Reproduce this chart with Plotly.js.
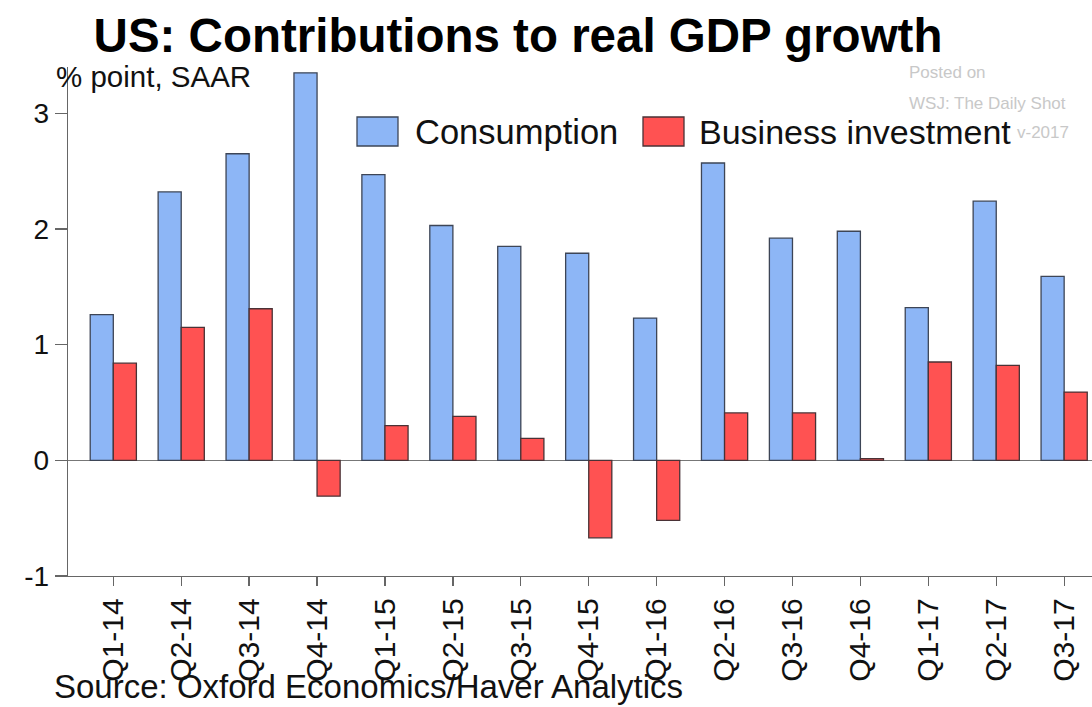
<!DOCTYPE html>
<html>
<head>
<meta charset="utf-8">
<script src="https://cdn.plot.ly/plotly-3.0.1.min.js"></script>
<style>
html,body{margin:0;padding:0;background:#fff;overflow:hidden;}
#chart{width:1092px;height:707px;}
</style>
</head>
<body>
<div id="chart"></div>
<script>
// ---- data ----
const quarters = ["Q1-14","Q2-14","Q3-14","Q4-14","Q1-15","Q2-15","Q3-15","Q4-15","Q1-16","Q2-16","Q3-16","Q4-16","Q1-17","Q2-17","Q3-17"];
const consumption = [1.26, 2.32, 2.65, 3.35, 2.47, 2.03, 1.85, 1.79, 1.23, 2.57, 1.92, 1.98, 1.32, 2.24, 1.59];
const businessInvestment = [0.84, 1.15, 1.31, -0.31, 0.30, 0.38, 0.19, -0.67, -0.52, 0.41, 0.41, 0.015, 0.85, 0.82, 0.59];
const seriesNames = ["Consumption", "Business investment"];
const yTicks = [-1, 0, 1, 2, 3];

// ---- layout geometry ----
const W = 1092, H = 707;
const M = {l: 68, r: 0, t: 67, b: 131};
const PW = W - M.l - M.r, PH = H - M.t - M.b;
const px = x => (x - M.l) / PW;
const py = y => (H - M.b - y) / PH;

const FONT = "Liberation Sans, Arial, Helvetica, sans-serif";
const BLUE = "#8db6f6", RED = "#ff5252", EDGE = "#3d4556";

const xIdx = quarters.map((q, i) => i);

const traces = [
  {type: "bar", name: seriesNames[0], x: xIdx, y: consumption,
   marker: {color: BLUE, line: {color: EDGE, width: 1.3}}, showlegend: false, hoverinfo: "x+y"},
  {type: "bar", name: seriesNames[1], x: xIdx, y: businessInvestment,
   marker: {color: RED, line: {color: "#4a3236", width: 1.3}}, showlegend: false, hoverinfo: "x+y"}
];

const legendBox = (x0, color, lc) => ({type: "rect", xref: "paper", yref: "paper",
  x0: px(x0), x1: px(x0 + 41), y0: py(146), y1: py(117),
  fillcolor: color, line: {color: lc, width: 1.3}});

const layout = {
  width: W, height: H,
  margin: M,
  paper_bgcolor: "#fff", plot_bgcolor: "#fff",
  font: {family: FONT, color: "#111"},
  barmode: "group", bargap: 0.32, bargroupgap: 0,
  title: {text: "<b>US: Contributions to real GDP growth</b>", font: {size: 47.5, family: FONT, color: "#000"},
          x: 518 / W, xanchor: "center", y: 1 - 35 / H, yanchor: "middle"},
  xaxis: {
    range: [-0.667, 14.41], tickmode: "array", tickvals: xIdx, ticktext: quarters,
    tickangle: -90, ticks: "outside", ticklen: 9, tickcolor: "#666", tickwidth: 1.3,
    showline: true, linecolor: "#666", linewidth: 1.3, showgrid: false, zeroline: false,
    tickfont: {size: 30, family: FONT, color: "#111"}, fixedrange: true
  },
  yaxis: {
    range: [-1, 3.4], tickmode: "array", tickvals: yTicks, ticktext: yTicks.map(String),
    ticks: "outside", ticklen: 12, tickcolor: "#666", tickwidth: 1.3,
    showline: true, linecolor: "#666", linewidth: 1.3, showgrid: false,
    zeroline: true, zerolinecolor: "#777", zerolinewidth: 1.3,
    tickfont: {size: 28, family: FONT, color: "#111"}, fixedrange: true
  },
  shapes: [legendBox(357, BLUE, EDGE), legendBox(643, RED, "#4a3236")],
  annotations: [
    {xref: "paper", yref: "paper", x: px(54), y: py(76), xanchor: "left", yanchor: "middle",
     text: "% point, SAAR", showarrow: false, font: {size: 29.5, family: FONT, color: "#111"}},
    // watermark
    {xref: "paper", yref: "paper", x: px(907), y: py(73), xanchor: "left", yanchor: "middle",
     text: "Posted on", showarrow: false, font: {size: 17, family: FONT, color: "#c8c8c8"}},
    {xref: "paper", yref: "paper", x: px(907), y: py(103), xanchor: "left", yanchor: "middle",
     text: "WSJ: The Daily Shot", showarrow: false, font: {size: 17, family: FONT, color: "#c8c8c8"}},
    {xref: "paper", yref: "paper", x: px(1071), y: py(132), xanchor: "right", yanchor: "middle",
     text: "v-2017", showarrow: false, font: {size: 17, family: FONT, color: "#c8c8c8"}},
    // legend texts
    {xref: "paper", yref: "paper", x: px(413), y: py(132), xanchor: "left", yanchor: "middle",
     text: seriesNames[0], showarrow: false, font: {size: 34.5, family: FONT, color: "#111"}},
    {xref: "paper", yref: "paper", x: px(698), y: py(132), xanchor: "left", yanchor: "middle",
     text: seriesNames[1], showarrow: false, borderpad: 0,
     font: {size: 34, family: FONT, color: "#111"}},
    // source
    {xref: "paper", yref: "paper", x: px(52), y: py(686), xanchor: "left", yanchor: "middle",
     text: "Source: Oxford Economics/Haver Analytics", showarrow: false,
     font: {size: 33, family: FONT, color: "#111"}}
  ]
};

Plotly.newPlot("chart", traces, layout, {displayModeBar: false, staticPlot: true});
</script>
</body>
</html>
